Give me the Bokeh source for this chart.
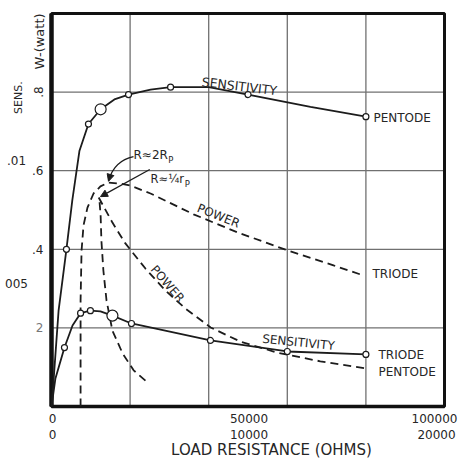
import math
from bokeh.plotting import figure
from bokeh.models import Range1d, Label, Arrow, NormalHead
from bokeh.embed import file_html
from bokeh.resources import INLINE

# ---------------- data ----------------
# Pentode: load resistance on the 0-100000 ohm scale
pent_sens_x = [0, 500, 1800, 3800, 5300, 7100, 9400, 12500, 16000, 19600, 25200, 30300, 40000, 50000, 65900, 80000]
pent_sens_y = [0, 0.0010, 0.0039, 0.0064, 0.0084, 0.0104, 0.0115, 0.0121, 0.0125, 0.0127, 0.0129, 0.0130, 0.0130, 0.0127, 0.0122, 0.0118]
pent_sens_mark_x = [3800, 9400, 19600, 30300, 50000, 80000]
pent_sens_mark_y = [0.0064, 0.0115, 0.0127, 0.0130, 0.0127, 0.0118]
pent_sens_big_x = [12500]
pent_sens_big_y = [0.0121]

pent_pow_x = [23900, 20900, 18100, 15500, 14000, 13200, 12700, 12500, 12200, 12000,
              15500, 18800, 23900, 29000, 34100, 40500, 48100, 57500, 68400, 80000]
pent_pow_y = [0.066, 0.092, 0.135, 0.193, 0.270, 0.346, 0.422, 0.486, 0.524, 0.532,
              0.468, 0.415, 0.351, 0.295, 0.249, 0.201, 0.165, 0.137, 0.115, 0.097]

# Triode: load resistance on the 0-20000 ohm scale
tri_sens_x = [0, 200, 660, 1070, 1480, 1980, 2490, 3100, 4070, 5550, 8090, 12000, 16000]
tri_sens_y = [0, 0.00114, 0.0024, 0.0033, 0.0038, 0.0039, 0.00387, 0.0037, 0.00338, 0.00313, 0.00269, 0.00224, 0.00212]
tri_sens_mark_x = [660, 1480, 1980, 4070, 8090, 12000, 16000]
tri_sens_mark_y = [0.0024, 0.0038, 0.0039, 0.00338, 0.00269, 0.00224, 0.00212]
tri_sens_big_x = [3100]
tri_sens_big_y = [0.0037]

tri_pow_x = [1480, 1480, 1530, 1630, 1830, 2140, 2490, 2900, 3510, 4020, 5040, 7230, 9470, 11910, 14350, 15900]
tri_pow_y = [0, 0.270, 0.397, 0.461, 0.506, 0.542, 0.560, 0.570, 0.567, 0.562, 0.542, 0.489, 0.443, 0.399, 0.359, 0.333]

# axes: extents, ticks and tick labels
x_extent = [0, 100000]          # pentode load resistance (ohms)
tri_extent = [0, 20000]         # triode load resistance (ohms)
w_extent = [0, 1.0]             # power (watt)
sens_extent = [0, 0.016]        # sensitivity
watt_ticks = [0.2, 0.4, 0.6, 0.8]
watt_labels = ["2", ".4", ".6", ".8"]
sens_ticks = [0.005, 0.01]
sens_labels = ["005", ".01"]
pent_x_ticks = [0, 50000, 100000]
pent_x_labels = ["0", "50000", "100000"]
tri_x_ticks = [0, 10000, 20000]
tri_x_labels = ["0", "10000", "20000"]
grid_x = [20000, 40000, 60000, 80000]

INK = "#1c1c1c"
TXT = "#262626"
FONT = "DejaVu Sans"

# page geometry: chart box from x=51..444, y=13..406 inside a 458x458 canvas
W, H = 458, 458
L, R, T, B = 51, 444, 13, 406


def ext(lo, hi, a, b, size):
    span = (hi - lo) / (b - a)
    return lo - a * span, hi + (size - b) * span


x0r, x1r = ext(x_extent[0], x_extent[1], L, R, W)
t0r, t1r = ext(tri_extent[0], tri_extent[1], L, R, W)
# y: page grows downwards
y_lo, y_hi = ext(w_extent[0], w_extent[1], H - B, H - T, H)
s_lo, s_hi = ext(sens_extent[0], sens_extent[1], H - B, H - T, H)

p = figure(width=W, height=H, output_backend="svg", toolbar_location=None,
           x_range=Range1d(x0r, x1r), y_range=Range1d(y_lo, y_hi),
           x_axis_location=None, y_axis_location=None,
           min_border=0, min_border_left=0, min_border_right=0,
           min_border_top=0, min_border_bottom=0)
p.extra_x_ranges = {"triode": Range1d(t0r, t1r)}
p.extra_y_ranges = {"sens": Range1d(s_lo, s_hi)}
p.background_fill_color = "white"
p.border_fill_color = "white"
p.outline_line_color = None
p.xgrid.visible = False
p.ygrid.visible = False

# grid lines inside the chart box
p.segment(x0=grid_x, y0=[w_extent[0]] * len(grid_x), x1=grid_x, y1=[w_extent[1]] * len(grid_x),
          line_color="#707070", line_width=1.3)
p.segment(x0=[x_extent[0]] * len(watt_ticks), y0=watt_ticks, x1=[x_extent[1]] * len(watt_ticks), y1=watt_ticks,
          line_color="#707070", line_width=1.3)
# chart box
p.quad(left=[x_extent[0]], right=[x_extent[1]], bottom=[w_extent[0]], top=[w_extent[1]],
       fill_color=None, line_color="#111111", line_width=3)
p.segment(x0=[x_extent[0]], y0=[w_extent[0]], x1=[x_extent[0]], y1=[w_extent[1]],
          line_color="#111111", line_width=4.5)
p.segment(x0=[x_extent[0]], y0=[w_extent[0]], x1=[x_extent[1]], y1=[w_extent[0]],
          line_color="#111111", line_width=3.5)

# curves
p.line(pent_sens_x, pent_sens_y, y_range_name="sens", line_color=INK, line_width=1.8)
p.line(tri_sens_x, tri_sens_y, x_range_name="triode", y_range_name="sens", line_color=INK, line_width=1.8)
p.line(pent_pow_x, pent_pow_y, line_color=INK, line_width=1.8, line_dash="8 5")
p.line(tri_pow_x, tri_pow_y, x_range_name="triode", line_color=INK, line_width=1.8, line_dash="8 5")

mk = dict(marker="circle", fill_color="white", line_color=INK, line_width=1.2)
p.scatter(pent_sens_mark_x, pent_sens_mark_y, y_range_name="sens", size=6, **mk)
p.scatter(pent_sens_big_x, pent_sens_big_y, y_range_name="sens", size=11, **mk)
p.scatter(tri_sens_mark_x, tri_sens_mark_y, x_range_name="triode", y_range_name="sens", size=6, **mk)
p.scatter(tri_sens_big_x, tri_sens_big_y, x_range_name="triode", y_range_name="sens", size=11, **mk)

# arrows for the optimum-load notes
p.quadratic(x0=[20865], y0=[0.636], x1=[14504], y1=[0.575], cx=[16030], cy=[0.626],
            line_color=INK, line_width=1.3)
p.add_layout(Arrow(end=NormalHead(size=7, fill_color=INK, line_color=INK), line_alpha=0,
                   x_start=15017, y_start=0.590, x_end=14504, y_end=0.573))
p.add_layout(Arrow(end=NormalHead(size=7, fill_color=INK, line_color=INK), line_color=INK, line_width=1.3,
                   x_start=25000, y_start=0.603, x_end=12468, y_end=0.534))


def lab(text, x, y, size, align="left", baseline="middle", angle=0.0, xo=0, yo=0,
        xr="default", yr="default", color=TXT):
    p.add_layout(Label(x=x, y=y, text=text, x_offset=xo, y_offset=yo, angle=angle,
                       x_range_name=xr, y_range_name=yr, text_font=FONT,
                       text_font_size=f"{size}px", text_color=color,
                       text_align=align, text_baseline=baseline))


# curve labels
lab("PENTODE", 81933, 0.735, 12)
lab("TRIODE", 81680, 0.336, 12)
lab("TRIODE", 83205, 0.132, 12)
lab("PENTODE", 83205, 0.089, 12)
lab("SENSITIVITY", 47800, 0.815, 12.5, align="center", angle=-0.12)
lab("SENSITIVITY", 62849, 0.163, 12, align="center", angle=-0.10)
lab("POWER", 42493, 0.485, 12, align="center", angle=-0.38)
lab("POWER", 29516, 0.312, 12, align="center", angle=-0.86)
lab("R≈2R", 20865, 0.639, 12)
lab("P", 29700, 0.627, 8.5)
lab("R≈¼r", 25191, 0.578, 11.5)
lab("P", 33900, 0.565, 8.5)

# left tick labels
for t, s in zip(watt_ticks, watt_labels):
    if s == ".8":
        lab(s, 0, t, 12, align="center", angle=math.pi / 2, xo=-13)
    else:
        lab(s, 0, t, 12, align="right", xo=-8, color="#777777" if s == "2" else TXT)
for t, s in zip(sens_ticks, sens_labels):
    lab(s, 0, t, 12, align="center", xo=-35, yr="sens")

lab("W-(watt)", 0, 0.929, 13, align="center", angle=math.pi / 2, xo=-12)
lab("SENS.", 0, 0.786, 11, align="center", angle=math.pi / 2, xo=-33)

# bottom tick labels
for t, s in zip(pent_x_ticks, pent_x_labels):
    xo = -10 if s == "100000" else 1
    lab(s, t, 0, 12, align="center", baseline="middle", xo=xo, yo=-12)
for t, s in zip(tri_x_ticks, tri_x_labels):
    xo = -8 if s == "20000" else 1
    lab(s, t, 0, 12, align="center", baseline="middle", xo=xo, yo=-28, xr="triode")

lab("LOAD RESISTANCE (OHMS)", 55979, 0, 15, align="center", baseline="middle", yo=-43)

open("out.html", "w").write(file_html(p, INLINE))
